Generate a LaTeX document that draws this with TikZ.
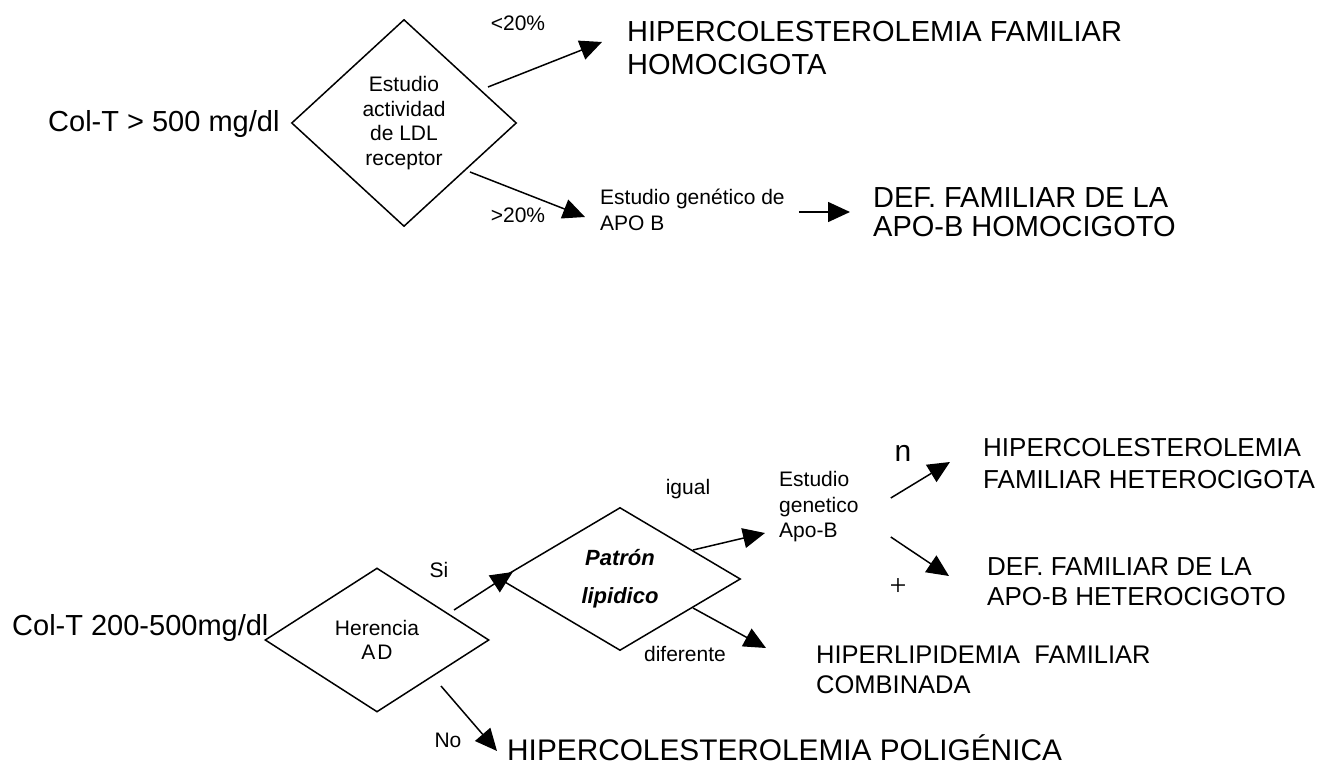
\documentclass[tikz,border=0pt]{standalone}
\usepackage{fontspec}
\setmainfont{Liberation Sans}
\newfontfamily\signo{Liberation Serif}
\usetikzlibrary{shapes.geometric,arrows.meta}

\begin{document}
\begin{tikzpicture}[x=1pt,y=-1pt,
  rombo/.style={draw, diamond, line width=1.5pt, inner sep=0pt, align=center, font=\fontsize{21}{24.5}\selectfont},
  grande/.style={anchor=west, align=left, inner sep=0pt, font=\fontsize{29}{33}\selectfont},
  medio/.style={anchor=west, align=left, inner sep=0pt, font=\fontsize{26}{31}\selectfont},
  chico/.style={align=left, inner sep=0pt, font=\fontsize{21}{25.5}\selectfont},
  flecha/.style={line width=1.5pt, -{Triangle[length=22pt,width=20pt]}}]
\useasboundingbox (0,0) rectangle (1326,765);

\node[grande] (colA) at (48,124) {Col-T > 500 mg/dl};
\node[rombo, minimum width=225, minimum height=207] (d1) at (404,123) {Estudio\\actividad\\de LDL\\receptor};
\node[chico] (menos) at (518,23) {<20\%};
\node[chico] (mas) at (518,215) {>20\%};
\node[grande] (hfhomo) at (627,48) {HIPERCOLESTEROLEMIA FAMILIAR\\HOMOCIGOTA};
\node[chico, anchor=west] (genB) at (600,210) {Estudio genético de\\APO B};
\node[grande, font=\fontsize{29}{29}\selectfont] (defhomo) at (873,212) {DEF. FAMILIAR DE LA\\APO-B HOMOCIGOTO};

\draw[flecha] ([shift={(84,-36)}]d1.center) -- ([shift={(-25,-6)}]hfhomo.west);
\draw[flecha] ([shift={(66,49)}]d1.center) -- ([shift={(-15,7)}]genB.west);
\draw[flecha] ([shift={(14,2)}]genB.east) -- ([xshift=-23]defhomo.west);

\node[grande] (colB) at (12,628) {Col-T 200-500mg/dl};
\node[rombo, minimum width=224, minimum height=144] (d2) at (377,640) {Herencia\\A\hspace{2pt}D};
\node[rombo, minimum width=241, minimum height=143, font=\fontsize{22}{38}\selectfont\bfseries\itshape] (d3) at (620,579) {Patrón\\lipidico};
\node[chico] (si) at (439,570) {Si};
\node[chico] (no) at (448,740) {No};
\node[chico] (igual) at (688,489) {igual};
\node[chico] (dif) at (685,654) {diferente};
\node[anchor=base west, inner sep=0pt, font=\fontsize{29.8}{33}\selectfont] (poli) at (507,760) {HIPERCOLESTEROLEMIA POLIGÉNICA};
\node[medio, font=\fontsize{25.5}{30}\selectfont] (hlfc) at (816,670) {HIPERLIPIDEMIA\ \ FAMILIAR\\COMBINADA};
\node[chico, anchor=west] (genApo) at (779,507) {Estudio\\genetico\\Apo-B};
\node[font=\fontsize{30}{30}\selectfont, inner sep=0pt] (ene) at (903,453) {n};
\node[font=\fontsize{30}{30}\selectfont\signo, inner sep=0pt] (mas2) at (898,587) {+};
\node[medio, font=\fontsize{26}{32}\selectfont] (hfhet) at (983,464) {HIPERCOLESTEROLEMIA\\FAMILIAR HETEROCIGOTA};
\node[medio, font=\fontsize{26}{30}\selectfont] (defhet) at (987,582) {DEF. FAMILIAR DE LA\\APO-B HETEROCIGOTO};

\draw[flecha] ([shift={(77,-30)}]d2.center) -- ([shift={(14,-7)}]d3.west);
\draw[flecha] ([shift={(64,46)}]d2.center) -- ([shift={(-10,-9)}]poli.base west);
\draw[flecha] ([shift={(73,-29)}]d3.center) -- ([shift={(-14,26)}]genApo.west);
\draw[flecha] ([shift={(73,29)}]d3.center) -- ([shift={(-50,-22)}]hlfc.west);
\draw[flecha] ([shift={(32,-9)}]genApo.east) -- ([shift={(-33,-2)}]hfhet.west);
\draw[flecha] ([shift={(32,30)}]genApo.east) -- ([shift={(-38,-6)}]defhet.west);
\end{tikzpicture}
\end{document}
